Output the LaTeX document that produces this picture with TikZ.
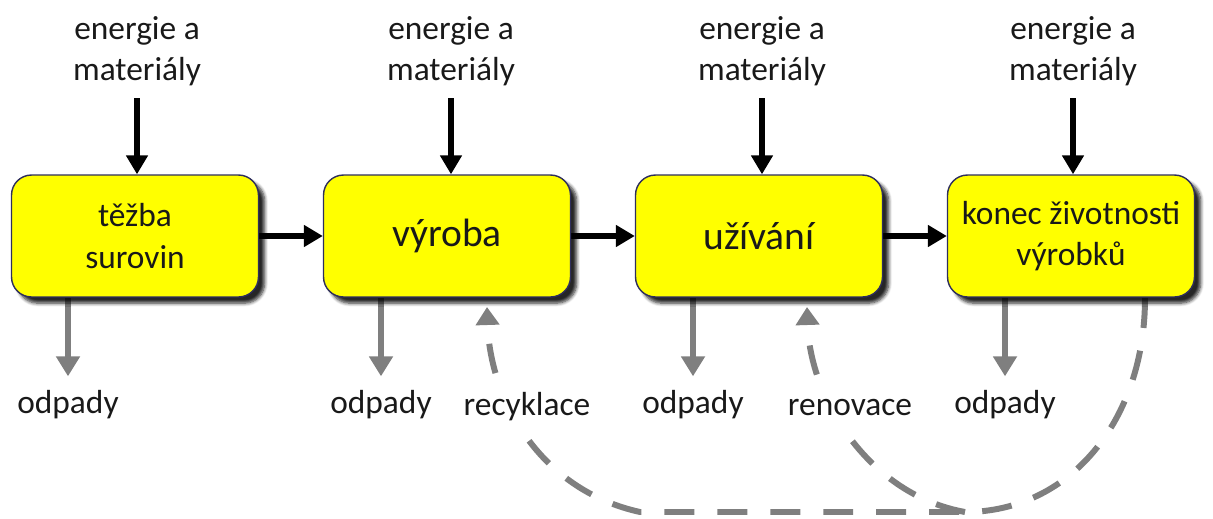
\documentclass[tikz,border=0pt]{standalone}
\usepackage{fontspec}
\setmainfont{Carlito}
\usetikzlibrary{arrows.meta,shadows.blur,backgrounds}

\definecolor{stagefill}{HTML}{FFFF00}
\definecolor{stageline}{HTML}{2E2E5C}
\definecolor{wastegray}{HTML}{7F7F7F}

\tikzset{
  stage/.style={draw=stageline, line width=0.8pt, fill=stagefill, rounded corners=0.4cm,
    minimum width=4.94cm, minimum height=2.44cm, align=center, text=black!90,
    font=\fontsize{19}{23.5}\selectfont,
    blur shadow={shadow xshift=3.5pt, shadow yshift=-3.5pt, shadow blur steps=6, shadow opacity=85}},
  bigstage/.style={stage, font=\fontsize{22.5}{27}\selectfont},
  flowtext/.style={align=center, inner sep=1pt, text=black!90, font=\fontsize{19}{23.5}\selectfont},
  feed/.style={line width=3.5pt, -{Triangle[length=0.38cm,width=0.42cm]}},
  waste/.style={wastegray, line width=3.4pt, shorten >=7pt, -{Triangle[length=0.4cm,width=0.46cm]}},
  reuse/.style={wastegray, line width=3.4pt, dash pattern=on 0.6cm off 0.46cm,
    -{Triangle[length=0.36cm,width=0.46cm]}}
}

\begin{document}
\begin{tikzpicture}[x=0.02cm, y=-0.02cm]
	\useasboundingbox (0,0) rectangle (1213,518);
	
	% Stages
	\node[stage]    (tezba)   at (135,236)  {těžba\\surovin};
	\node[bigstage] (vyroba)  at (447,236)  {výroba};
	\node[bigstage] (uzivani) at (759,236)  {užívání};
	\node[stage]    (konec)   at (1071,236) {konec životnosti\\výrobků};
	
	% Inputs
	\node[flowtext] (in1) at (137,51)  {energie a\\materiály};
	\node[flowtext] (in2) at (451,51)  {energie a\\materiály};
	\node[flowtext] (in3) at (762,51)  {energie a\\materiály};
	\node[flowtext] (in4) at (1073,51) {energie a\\materiály};
	
	% Waste
	\node[flowtext] (out1) at (68,405)   {odpady};
	\node[flowtext] (out2) at (381,405)  {odpady};
	\node[flowtext] (out3) at (693,405)  {odpady};
	\node[flowtext] (out4) at (1005,405) {odpady};
	
	% Return loop
	\coordinate (endlife) at (1145,298);
	\coordinate (turn)    at (965,512);
	\coordinate (recin)   at (487,307);
	\coordinate (renin)   at (807,307);
	\node[flowtext, fill=white, inner sep=5pt] (recyk) at (527,407) {recyklace};
	\node[flowtext, fill=white, inner sep=5pt] (renov) at (850,408) {renovace};
	
	\begin{scope}[on background layer]
		\draw[feed, shorten <=6pt] (in1.south) -- (in1.south |- tezba.north);
		\draw[feed, shorten <=6pt] (in2.south) -- (in2.south |- vyroba.north);
		\draw[feed, shorten <=6pt] (in3.south) -- (in3.south |- uzivani.north);
		\draw[feed, shorten <=6pt] (in4.south) -- (in4.south |- konec.north);
		
		\draw[feed] (tezba)   -- (vyroba);
		\draw[feed] (vyroba)  -- (uzivani);
		\draw[feed] (uzivani) -- (konec);
		
		\draw[waste] (out1 |- tezba.south)   -- (out1.north);
		\draw[waste] (out2 |- vyroba.south)  -- (out2.north);
		\draw[waste] (out3 |- uzivani.south) -- (out3.north);
		\draw[waste] (out4 |- konec.south)   -- (out4.north);
		
		\draw[reuse] (endlife) .. controls (1145,420) and (1070,512) .. (turn)
			-- (640,512) .. controls (540,490) and (490,400) .. (recin);
		\draw[reuse] (turn) .. controls (870,495) and (810,400) .. (renin);
	\end{scope}
	
\end{tikzpicture}
\end{document}
